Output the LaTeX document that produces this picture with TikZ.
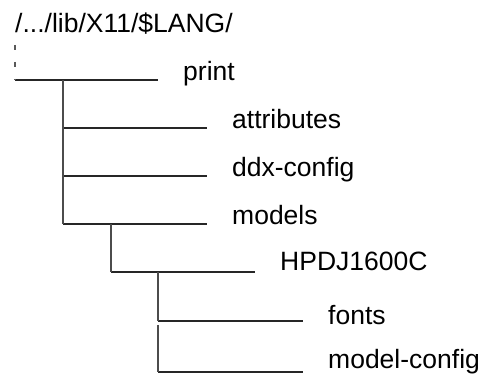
\documentclass[tikz,border=0pt]{standalone}
\usepackage{fontspec}
\setmainfont{Liberation Sans}
\usetikzlibrary{positioning}

\begin{document}
\begin{tikzpicture}[
    x=1pt, y=-1pt,
    every node/.style={font=\fontsize{26.5}{30}\selectfont},
    entry/.style={anchor=base west, inner sep=0pt},
    branch/.style={line width=1.4pt, black!85},
    trunk/.style={line width=2pt, black!70},
    rootline/.style={line width=2pt, black!65, dash pattern=on 5pt off 12pt}
  ]
  \useasboundingbox (0,0) rectangle (480,377);

  % directory path at the top
  \node[entry] (path) at (15,33) {/.../lib/X11/\$LANG/};

  % entries, one per level
  \node[entry] (print) at (183,81) {print};
  \foreach \name/\txt/\ypos in {attributes/attributes/129, ddxconfig/ddx-config/177, models/models/225} {
      \node[entry] (\name) at (232,\ypos) {\txt};
    }
  \node[entry] (hpdj) at (280,271) {HPDJ1600C};
  \node[entry] (fonts) at (328,325) {fonts};
  \node[entry] (modelconfig) at (328,368) {model-config};

  % branch points (left ends of the horizontal lines)
  \coordinate (top) at (15,45);
  \coordinate (bprint) at (15,80);
  \foreach \name/\ypos in {battributes/128, bddxconfig/176, bmodels/224} {
      \coordinate (\name) at (63,\ypos);
    }
  \coordinate (bhpdj) at (111,272);
  \coordinate (bfonts) at (158,321);
  \coordinate (bmodelconfig) at (158,372);

  % horizontal branches
  \foreach \dst in {print, attributes, ddxconfig, models, hpdj, fonts, modelconfig} {
      \draw[branch] (b\dst) -- ([xshift=-25pt]b\dst -| \dst.west);
    }

  % vertical trunks
  \draw[rootline] (top) -- (bprint);
  \draw[trunk] (bprint -| bmodels) -- (bmodels);
  \draw[trunk] (bmodels -| bhpdj) -- (bhpdj);
  \draw[trunk] (bhpdj -| bfonts) -- (bfonts);
  \draw[trunk] ([yshift=-4pt]bfonts) -- (bmodelconfig);
\end{tikzpicture}
\end{document}
